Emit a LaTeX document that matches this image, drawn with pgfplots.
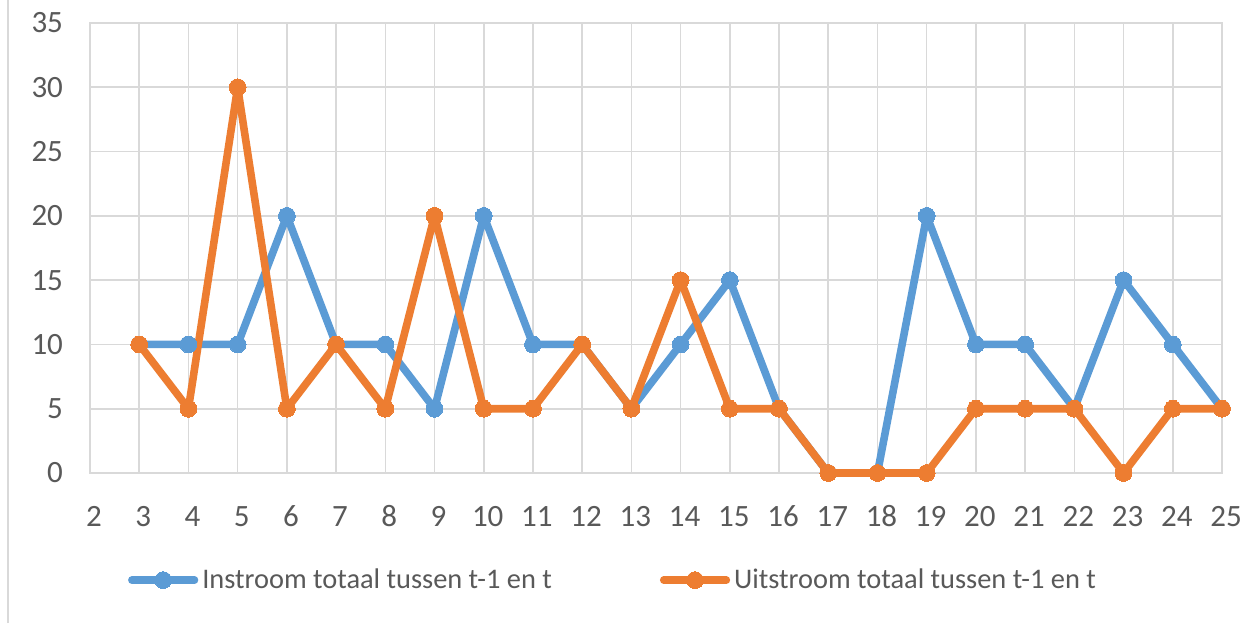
\documentclass[border=0pt]{standalone}
\usepackage{pgfplots}
\pgfplotsset{compat=1.18}
\usepackage{fontspec}
\setmainfont{Carlito}
\definecolor{cblue}{HTML}{5B9BD5}
\definecolor{corange}{HTML}{ED7D31}
\definecolor{ctext}{HTML}{595959}
\definecolor{cgrid}{HTML}{D9D9D9}
\begin{document}
\begin{tikzpicture}
\useasboundingbox (-45pt,-75pt) rectangle (582pt,236.5pt);
\fill[white] (-45pt,-75pt) rectangle (582pt,236.5pt);
\draw[cgrid, line width=1pt] (-41pt,-75pt) -- (-41pt,236.5pt);
\begin{axis}[
  at={(0,0)}, anchor=south west,
  scale only axis, width=566pt, height=225pt,
  xmin=2, xmax=25, ymin=0, ymax=35,
  xtick={2,...,25}, ytick={0,5,...,35},
  grid=major, major grid style={cgrid, line width=0.8pt},
  axis line style={cgrid, line width=0.8pt},
  major tick length=0pt,
  tick label style={font=\fontsize{15.5}{18}\selectfont, text=ctext},
  /pgf/number format/assume math mode=true,
  xticklabel style={yshift=-12pt, xshift=2pt, text height=11pt, text depth=0pt},
  yticklabel style={xshift=-10pt},
  clip=false,
  legend columns=2,
  legend style={draw=none, fill=none, at={(0.028,-0.238)}, anchor=west,
    font=\fontsize{14.2}{17}\selectfont, text=ctext,
    /tikz/every even column/.append style={column sep=52pt}},
  legend image code/.code={\draw[mark repeat=2,mark phase=2] plot coordinates {(0cm,0cm) (0.55cm,0cm) (1.1cm,0cm)};},
  every axis plot/.append style={line join=round, line cap=round},
]
\addplot[cblue, line width=3.8pt, mark=*, mark size=4.2pt, mark options={line width=0pt, fill=cblue}] coordinates {
(3,10) (4,10) (5,10) (6,20) (7,10) (8,10) (9,5) (10,20) (11,10) (12,10) (13,5) (14,10) (15,15) (16,5) (17,0) (18,0) (19,20) (20,10) (21,10) (22,5) (23,15) (24,10) (25,5)};
\addlegendentry{Instroom totaal tussen t-1 en t}
\addplot[corange, line width=3.8pt, mark=*, mark size=4.2pt, mark options={line width=0pt, fill=corange}] coordinates {
(3,10) (4,5) (5,30) (6,5) (7,10) (8,5) (9,20) (10,5) (11,5) (12,10) (13,5) (14,15) (15,5) (16,5) (17,0) (18,0) (19,0) (20,5) (21,5) (22,5) (23,0) (24,5) (25,5)};
\addlegendentry{Uitstroom totaal tussen t-1 en t}
\end{axis}
\end{tikzpicture}
\end{document}
